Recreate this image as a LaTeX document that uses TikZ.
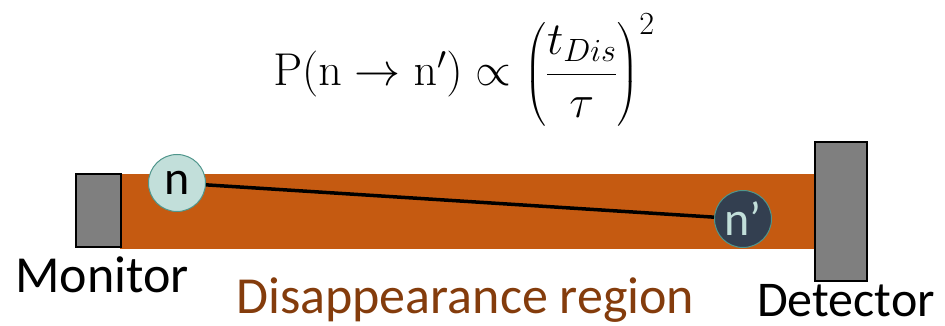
\RequirePackage{fix-cm}
\documentclass[tikz,border=0pt]{standalone}
\usepackage[no-math]{fontspec}
\usepackage{amsmath}
\setmainfont{Carlito}
\definecolor{bandorange}{RGB}{197,90,17}
\definecolor{labelbrown}{RGB}{132,60,12}
\definecolor{boxgray}{RGB}{127,127,127}
\definecolor{lightteal}{RGB}{194,223,218}
\definecolor{tealedge}{RGB}{80,150,140}
\definecolor{darknavy}{RGB}{51,63,80}
\tikzset{
  endbox/.style={draw=black, line width=2pt, fill=boxgray},
  particle/.style={circle, draw=tealedge, line width=1pt, minimum size=57pt, inner sep=0pt, font=\fontsize{48}{50}\selectfont},
  biglabel/.style={font=\fontsize{52}{56}\selectfont, inner sep=0pt},
}
\begin{document}
\begin{tikzpicture}[x=1pt,y=-1pt]
\useasboundingbox (0,0) rectangle (945,326);
% formula
\node[anchor=base, inner sep=0pt, font=\fontsize{46}{52}\selectfont] (formula) at (464,86)
  {$\mathrm{P}(\mathrm{n}\rightarrow\mathrm{n}')\propto\left(\dfrac{t_{Dis}}{\tau}\right)^{2}$};
% band
\fill[bandorange] (120,174) rectangle (815,249);
% monitor and detector
\draw[endbox] (76,174) rectangle (121,247);
\draw[endbox] (815,142) rectangle (867,281);
% particles
\node[particle, fill=lightteal, text=black] (n) at (177,183) {n};
\node[particle, fill=darknavy, text=lightteal] (np) at (743,219) {n’};
\draw[black, line width=3.5pt] (n) -- (np);
% labels
\node[biglabel, anchor=base west] (monlabel) at (15,292) {Monitor};
\node[biglabel, anchor=base west, text=labelbrown] (reglabel) at (236,313) {Disappearance region};
\node[biglabel, anchor=base west, font=\fontsize{50}{54}\selectfont] (detlabel) at (757,316) {Detector};
\end{tikzpicture}
\end{document}
